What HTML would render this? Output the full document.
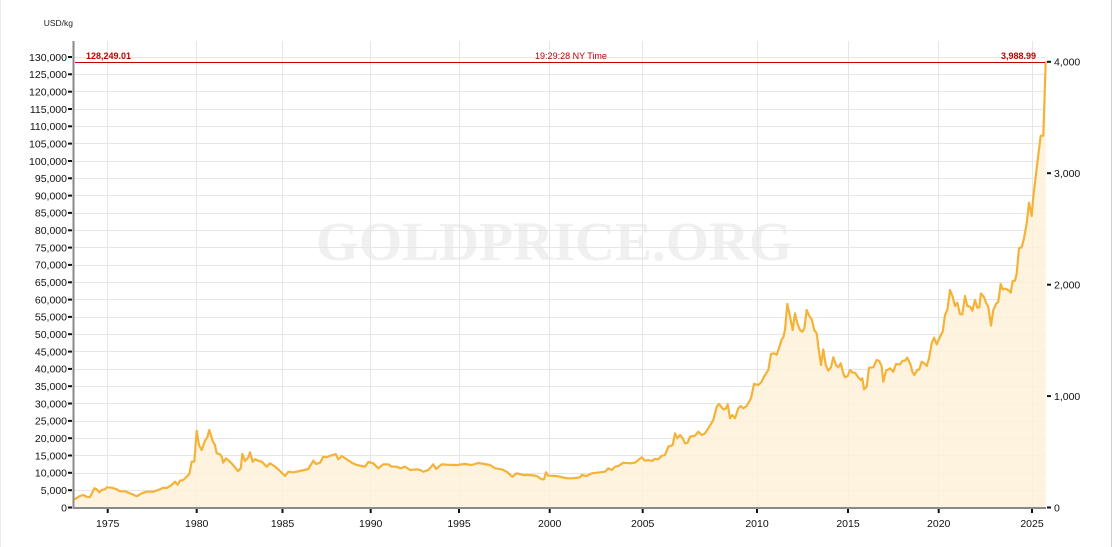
<!DOCTYPE html>
<html>
<head>
<meta charset="utf-8">
<style>
  html,body{margin:0;padding:0;background:#fff;}
  body{width:1114px;height:547px;overflow:hidden;}
  svg{display:block;}
  text{font-family:"Liberation Sans",sans-serif;}
</style>
</head>
<body>
<svg width="1114" height="547" viewBox="0 0 1114 547" xmlns="http://www.w3.org/2000/svg">
  <rect x="0" y="0" width="1114" height="547" fill="#fff"/>
  <!-- outer borders -->
  <line x1="0.5" y1="0" x2="0.5" y2="547" stroke="#ececec" stroke-width="1"/>
  <line x1="1111.5" y1="0" x2="1111.5" y2="547" stroke="#cfcfcf" stroke-width="1"/>

  <!-- watermark -->
  <text x="554" y="260" text-anchor="middle" font-family="Liberation Serif, serif" font-weight="bold" font-size="55.5" fill="#f0f0f0" style="font-family:'Liberation Serif',serif">GOLDPRICE.ORG</text>

  <!-- horizontal gridlines -->
  <g stroke="#e6e6e6" stroke-width="1" shape-rendering="crispEdges">
    <line x1="74" x2="1045" y1="490.5" y2="490.5"/>
    <line x1="74" x2="1045" y1="473.5" y2="473.5"/>
    <line x1="74" x2="1045" y1="455.5" y2="455.5"/>
    <line x1="74" x2="1045" y1="438.5" y2="438.5"/>
    <line x1="74" x2="1045" y1="421.5" y2="421.5"/>
    <line x1="74" x2="1045" y1="403.5" y2="403.5"/>
    <line x1="74" x2="1045" y1="386.5" y2="386.5"/>
    <line x1="74" x2="1045" y1="369.5" y2="369.5"/>
    <line x1="74" x2="1045" y1="351.5" y2="351.5"/>
    <line x1="74" x2="1045" y1="334.5" y2="334.5"/>
    <line x1="74" x2="1045" y1="317.5" y2="317.5"/>
    <line x1="74" x2="1045" y1="299.5" y2="299.5"/>
    <line x1="74" x2="1045" y1="282.5" y2="282.5"/>
    <line x1="74" x2="1045" y1="265.5" y2="265.5"/>
    <line x1="74" x2="1045" y1="247.5" y2="247.5"/>
    <line x1="74" x2="1045" y1="230.5" y2="230.5"/>
    <line x1="74" x2="1045" y1="213.5" y2="213.5"/>
    <line x1="74" x2="1045" y1="195.5" y2="195.5"/>
    <line x1="74" x2="1045" y1="178.5" y2="178.5"/>
    <line x1="74" x2="1045" y1="161.5" y2="161.5"/>
    <line x1="74" x2="1045" y1="143.5" y2="143.5"/>
    <line x1="74" x2="1045" y1="126.5" y2="126.5"/>
    <line x1="74" x2="1045" y1="109.5" y2="109.5"/>
    <line x1="74" x2="1045" y1="91.5" y2="91.5"/>
    <line x1="74" x2="1045" y1="74.5" y2="74.5"/>
    <line x1="74" x2="1045" y1="57.5" y2="57.5"/>
  </g>
  <!-- vertical gridlines -->
  <g stroke="#e6e6e6" stroke-width="1" shape-rendering="crispEdges">
    <line y1="41" y2="507" x1="107.5" x2="107.5"/>
    <line y1="41" y2="507" x1="196.5" x2="196.5"/>
    <line y1="41" y2="507" x1="282.5" x2="282.5"/>
    <line y1="41" y2="507" x1="370.5" x2="370.5"/>
    <line y1="41" y2="507" x1="459.5" x2="459.5"/>
    <line y1="41" y2="507" x1="549.5" x2="549.5"/>
    <line y1="41" y2="507" x1="642.5" x2="642.5"/>
    <line y1="41" y2="507" x1="757.5" x2="757.5"/>
    <line y1="41" y2="507" x1="848.5" x2="848.5"/>
    <line y1="41" y2="507" x1="938.5" x2="938.5"/>
    <line y1="41" y2="507" x1="1032.5" x2="1032.5"/>
  </g>

  <!-- area fill -->
  <polygon fill="#fdf0d8" fill-opacity="0.82" points="75,507.5 75,499 80,496 83.3,495 87.3,497 90,497 94.3,488.3 96.7,489.3 99.3,492.3 101.7,490 105,489.3 106.7,487.3 111.7,487.7 116.7,489.3 120,491.3 125,491.3 130,493.3 136.7,496.3 141.7,493.3 146.7,491.7 153.3,491.7 160,489.3 163.3,487.7 166.7,488 171.7,485 175,481.7 177.7,484.7 180,480.7 183.3,480 186.7,476.7 189.3,474 191.7,461.7 194.3,461.7 196.7,430.7 199,445 201.7,450 205,440.7 207.3,437.3 209.3,430 212.7,441 215,445 216.7,453.3 220,454.3 221.7,456.7 223.3,462.7 226,458.3 229.3,461 233.3,465.3 238,471 240.7,468.3 242.3,454 245,461 248.3,457.3 250,452.3 252.7,461.7 255,459.3 258.3,460.7 261.7,461.7 266.7,466.7 270,463.3 275,466.7 278.3,469.3 281.7,472.7 285,476 288.3,471.7 293.3,472.3 300,471 308.3,469 313.3,460.7 316,464 320,462.7 323.3,456.7 326.7,457.3 330,455.7 333.3,455 335.7,454 338.3,459.3 341.7,456 346.7,459.3 351.7,462.7 356.7,465 361.7,466 365,466.7 368.3,462 373.3,463.3 378.3,468.3 383.3,464.3 388.3,464.3 391.7,466.7 396.7,466.7 400.7,468.3 405,466.7 410,470 416.7,469.3 420,470 423.3,471.7 428.3,470 433.3,464.3 436,469 441.7,464.3 446.7,464.7 456.7,465 465,464 471.7,465 478.3,463 490,465 495,468.3 501.7,469.3 506.7,471.7 512.3,476.7 516.7,473.3 523.3,475 530,475 536.7,476 541.7,479.3 544,479.3 546,472.3 548.3,475.7 556.7,476 566.7,478.3 573.3,478.3 580,477.3 581.7,475 586.7,476 591.7,473.3 600,472.3 605,471.7 608.3,468.3 611.7,470 615,466.7 618.3,466 623.3,462.7 630,463.3 635,462.7 641.7,457.3 645,460.7 648.3,460 651.7,461 655,459 658.3,459.3 661.7,455.7 665,455 668.3,446.7 672.7,445 675,433.3 677.3,438.3 680,435 682.7,438.3 685,443.3 687.7,442.7 690,436.7 695,435.7 698.3,431.7 701.7,435 705,433.3 709.3,426.7 713.3,420 716.7,406.7 719,404 723.3,409.3 726,408.3 727.7,404.3 730,418.3 732.3,415 735,418.3 738.3,408.3 740.7,406 743.3,408.3 746.7,406 751,398.3 754,384 758.3,385 761.7,381.7 764,376.7 768.3,370 771,354 774,353.3 776.7,354.7 780,345 781.7,339.3 783.3,337.3 785,330 787.3,304 790,316.7 792.7,330 795,313.3 797.3,323.3 800,330 802.3,331.7 804.3,328.3 806.7,310 809.3,316 811.7,319.3 814.3,330 816.7,333.3 819,351.7 821,365 823.3,349.3 825.7,365 828.3,370.7 831,367.3 833.3,357.3 836,365 838.3,367.3 840.7,363.3 843.3,373.3 845,377.3 847.7,376 850,370 852.7,372.7 855,372.7 858.3,377.3 860.7,380 862.3,378.3 864,389.3 866.7,386.7 869,367.7 873.3,367.3 876.7,360 879.3,361 881.7,366.7 883.3,381.7 886,370.7 890,368.3 893.3,371.7 896,364 900,364.3 902.7,360.7 905,360.7 907.3,357.7 910.7,365 912.3,371.7 914.3,375 917.3,370 919.3,369.3 921.7,361.7 924.3,363.3 926.7,366 929,358.3 931.7,343.3 934,337.7 936.7,344.3 940,336.7 942.7,331.7 945,315 947.3,310 950,290 952.7,296.7 955,306 957.3,302.7 960,314.3 962.3,314.3 965,296 967.3,306 970,306.7 972.3,310.7 975,300 977.3,307.7 979.3,307.3 981,293.3 984,297.3 986.7,304 988.3,306.7 991,325.7 993.3,310 996,304 998.3,301.7 1000.7,284 1002.7,289.3 1005.7,288.7 1009,290.7 1010.7,292.7 1012.7,281 1015,280.7 1016.7,273.3 1019,248.3 1021.7,247.3 1024,238.3 1026.7,223.3 1029,202.7 1031.7,216 1033.3,196.7 1037.3,163.3 1040.7,135.7 1043.3,135.7 1045.7,62 1045.7,507.5"/>

  <!-- series line -->
  <polyline fill="none" stroke="#f4b338" stroke-width="2.2" stroke-linejoin="round" stroke-linecap="round" points="75,499 80,496 83.3,495 87.3,497 90,497 94.3,488.3 96.7,489.3 99.3,492.3 101.7,490 105,489.3 106.7,487.3 111.7,487.7 116.7,489.3 120,491.3 125,491.3 130,493.3 136.7,496.3 141.7,493.3 146.7,491.7 153.3,491.7 160,489.3 163.3,487.7 166.7,488 171.7,485 175,481.7 177.7,484.7 180,480.7 183.3,480 186.7,476.7 189.3,474 191.7,461.7 194.3,461.7 196.7,430.7 199,445 201.7,450 205,440.7 207.3,437.3 209.3,430 212.7,441 215,445 216.7,453.3 220,454.3 221.7,456.7 223.3,462.7 226,458.3 229.3,461 233.3,465.3 238,471 240.7,468.3 242.3,454 245,461 248.3,457.3 250,452.3 252.7,461.7 255,459.3 258.3,460.7 261.7,461.7 266.7,466.7 270,463.3 275,466.7 278.3,469.3 281.7,472.7 285,476 288.3,471.7 293.3,472.3 300,471 308.3,469 313.3,460.7 316,464 320,462.7 323.3,456.7 326.7,457.3 330,455.7 333.3,455 335.7,454 338.3,459.3 341.7,456 346.7,459.3 351.7,462.7 356.7,465 361.7,466 365,466.7 368.3,462 373.3,463.3 378.3,468.3 383.3,464.3 388.3,464.3 391.7,466.7 396.7,466.7 400.7,468.3 405,466.7 410,470 416.7,469.3 420,470 423.3,471.7 428.3,470 433.3,464.3 436,469 441.7,464.3 446.7,464.7 456.7,465 465,464 471.7,465 478.3,463 490,465 495,468.3 501.7,469.3 506.7,471.7 512.3,476.7 516.7,473.3 523.3,475 530,475 536.7,476 541.7,479.3 544,479.3 546,472.3 548.3,475.7 556.7,476 566.7,478.3 573.3,478.3 580,477.3 581.7,475 586.7,476 591.7,473.3 600,472.3 605,471.7 608.3,468.3 611.7,470 615,466.7 618.3,466 623.3,462.7 630,463.3 635,462.7 641.7,457.3 645,460.7 648.3,460 651.7,461 655,459 658.3,459.3 661.7,455.7 665,455 668.3,446.7 672.7,445 675,433.3 677.3,438.3 680,435 682.7,438.3 685,443.3 687.7,442.7 690,436.7 695,435.7 698.3,431.7 701.7,435 705,433.3 709.3,426.7 713.3,420 716.7,406.7 719,404 723.3,409.3 726,408.3 727.7,404.3 730,418.3 732.3,415 735,418.3 738.3,408.3 740.7,406 743.3,408.3 746.7,406 751,398.3 754,384 758.3,385 761.7,381.7 764,376.7 768.3,370 771,354 774,353.3 776.7,354.7 780,345 781.7,339.3 783.3,337.3 785,330 787.3,304 790,316.7 792.7,330 795,313.3 797.3,323.3 800,330 802.3,331.7 804.3,328.3 806.7,310 809.3,316 811.7,319.3 814.3,330 816.7,333.3 819,351.7 821,365 823.3,349.3 825.7,365 828.3,370.7 831,367.3 833.3,357.3 836,365 838.3,367.3 840.7,363.3 843.3,373.3 845,377.3 847.7,376 850,370 852.7,372.7 855,372.7 858.3,377.3 860.7,380 862.3,378.3 864,389.3 866.7,386.7 869,367.7 873.3,367.3 876.7,360 879.3,361 881.7,366.7 883.3,381.7 886,370.7 890,368.3 893.3,371.7 896,364 900,364.3 902.7,360.7 905,360.7 907.3,357.7 910.7,365 912.3,371.7 914.3,375 917.3,370 919.3,369.3 921.7,361.7 924.3,363.3 926.7,366 929,358.3 931.7,343.3 934,337.7 936.7,344.3 940,336.7 942.7,331.7 945,315 947.3,310 950,290 952.7,296.7 955,306 957.3,302.7 960,314.3 962.3,314.3 965,296 967.3,306 970,306.7 972.3,310.7 975,300 977.3,307.7 979.3,307.3 981,293.3 984,297.3 986.7,304 988.3,306.7 991,325.7 993.3,310 996,304 998.3,301.7 1000.7,284 1002.7,289.3 1005.7,288.7 1009,290.7 1010.7,292.7 1012.7,281 1015,280.7 1016.7,273.3 1019,248.3 1021.7,247.3 1024,238.3 1026.7,223.3 1029,202.7 1031.7,216 1033.3,196.7 1037.3,163.3 1040.7,135.7 1043.3,135.7 1045.7,62"/>

  <!-- red reference line -->
  <line x1="75" x2="1045" y1="62.5" y2="62.5" stroke="#c00000" stroke-width="1.2" shape-rendering="crispEdges"/>
  <text x="86" y="59" font-size="9" font-weight="bold" fill="#c00000">128,249.01</text>
  <text x="571" y="59" font-size="9" fill="#c00000" text-anchor="middle">19:29:28 NY Time</text>
  <text x="1036" y="59" font-size="9" font-weight="bold" fill="#c00000" text-anchor="end">3,988.99</text>

  <!-- axes -->
  <line x1="73.5" y1="41" x2="73.5" y2="509" stroke="#8a8a8a" stroke-width="2"/>
  <line x1="73" y1="508" x2="1046" y2="508" stroke="#8a8a8a" stroke-width="2"/>

  <!-- unit label -->
  <text x="73" y="26" font-size="8.5" fill="#222" text-anchor="end">USD/kg</text>

  <!-- left ticks -->
  <g stroke="#111" stroke-width="2">
    <line x1="68" x2="72" y1="507.5" y2="507.5"/>
    <line x1="68" x2="72" y1="490.2" y2="490.2"/>
    <line x1="68" x2="72" y1="472.8" y2="472.8"/>
    <line x1="68" x2="72" y1="455.5" y2="455.5"/>
    <line x1="68" x2="72" y1="438.2" y2="438.2"/>
    <line x1="68" x2="72" y1="420.9" y2="420.9"/>
    <line x1="68" x2="72" y1="403.5" y2="403.5"/>
    <line x1="68" x2="72" y1="386.2" y2="386.2"/>
    <line x1="68" x2="72" y1="368.9" y2="368.9"/>
    <line x1="68" x2="72" y1="351.6" y2="351.6"/>
    <line x1="68" x2="72" y1="334.2" y2="334.2"/>
    <line x1="68" x2="72" y1="316.9" y2="316.9"/>
    <line x1="68" x2="72" y1="299.6" y2="299.6"/>
    <line x1="68" x2="72" y1="282.3" y2="282.3"/>
    <line x1="68" x2="72" y1="264.9" y2="264.9"/>
    <line x1="68" x2="72" y1="247.6" y2="247.6"/>
    <line x1="68" x2="72" y1="230.3" y2="230.3"/>
    <line x1="68" x2="72" y1="212.9" y2="212.9"/>
    <line x1="68" x2="72" y1="195.6" y2="195.6"/>
    <line x1="68" x2="72" y1="178.3" y2="178.3"/>
    <line x1="68" x2="72" y1="161.0" y2="161.0"/>
    <line x1="68" x2="72" y1="143.6" y2="143.6"/>
    <line x1="68" x2="72" y1="126.3" y2="126.3"/>
    <line x1="68" x2="72" y1="109.0" y2="109.0"/>
    <line x1="68" x2="72" y1="91.7" y2="91.7"/>
    <line x1="68" x2="72" y1="74.3" y2="74.3"/>
    <line x1="68" x2="72" y1="57.0" y2="57.0"/>
  </g>
  <g font-size="10.5" fill="#111" text-anchor="end">
    <text x="67" y="511.3">0</text>
    <text x="67" y="494">5,000</text>
    <text x="67" y="476.6">10,000</text>
    <text x="67" y="459.3">15,000</text>
    <text x="67" y="442">20,000</text>
    <text x="67" y="424.7">25,000</text>
    <text x="67" y="407.3">30,000</text>
    <text x="67" y="390">35,000</text>
    <text x="67" y="372.7">40,000</text>
    <text x="67" y="355.4">45,000</text>
    <text x="67" y="338">50,000</text>
    <text x="67" y="320.7">55,000</text>
    <text x="67" y="303.4">60,000</text>
    <text x="67" y="286.1">65,000</text>
    <text x="67" y="268.7">70,000</text>
    <text x="67" y="251.4">75,000</text>
    <text x="67" y="234.1">80,000</text>
    <text x="67" y="216.7">85,000</text>
    <text x="67" y="199.4">90,000</text>
    <text x="67" y="182.1">95,000</text>
    <text x="67" y="164.8">100,000</text>
    <text x="67" y="147.4">105,000</text>
    <text x="67" y="130.1">110,000</text>
    <text x="67" y="112.8">115,000</text>
    <text x="67" y="95.5">120,000</text>
    <text x="67" y="78.1">125,000</text>
    <text x="67" y="60.8">130,000</text>
  </g>

  <!-- right ticks -->
  <g stroke="#111" stroke-width="2">
    <line x1="1047" x2="1051" y1="507.5" y2="507.5"/>
    <line x1="1047" x2="1051" y1="396.1" y2="396.1"/>
    <line x1="1047" x2="1051" y1="284.7" y2="284.7"/>
    <line x1="1047" x2="1051" y1="173.2" y2="173.2"/>
    <line x1="1047" x2="1051" y1="61.8" y2="61.8"/>
  </g>
  <g font-size="10.5" fill="#111">
    <text x="1054" y="511.3">0</text>
    <text x="1054" y="399.9">1,000</text>
    <text x="1054" y="288.5">2,000</text>
    <text x="1054" y="177">3,000</text>
    <text x="1054" y="65.6">4,000</text>
  </g>

  <!-- x ticks -->
  <g stroke="#111" stroke-width="2">
    <line y1="509" y2="513" x1="107.7" x2="107.7"/>
    <line y1="509" y2="513" x1="196.7" x2="196.7"/>
    <line y1="509" y2="513" x1="282.5" x2="282.5"/>
    <line y1="509" y2="513" x1="370.7" x2="370.7"/>
    <line y1="509" y2="513" x1="459" x2="459"/>
    <line y1="509" y2="513" x1="549.7" x2="549.7"/>
    <line y1="509" y2="513" x1="642.7" x2="642.7"/>
    <line y1="509" y2="513" x1="757" x2="757"/>
    <line y1="509" y2="513" x1="848" x2="848"/>
    <line y1="509" y2="513" x1="938.7" x2="938.7"/>
    <line y1="509" y2="513" x1="1032" x2="1032"/>
  </g>
  <g font-size="10.5" fill="#111" text-anchor="middle">
    <text x="107.7" y="527">1975</text>
    <text x="196.7" y="527">1980</text>
    <text x="282.5" y="527">1985</text>
    <text x="370.7" y="527">1990</text>
    <text x="459" y="527">1995</text>
    <text x="549.7" y="527">2000</text>
    <text x="642.7" y="527">2005</text>
    <text x="757" y="527">2010</text>
    <text x="848" y="527">2015</text>
    <text x="938.7" y="527">2020</text>
    <text x="1032" y="527">2025</text>
  </g>
</svg>
</body>
</html>
